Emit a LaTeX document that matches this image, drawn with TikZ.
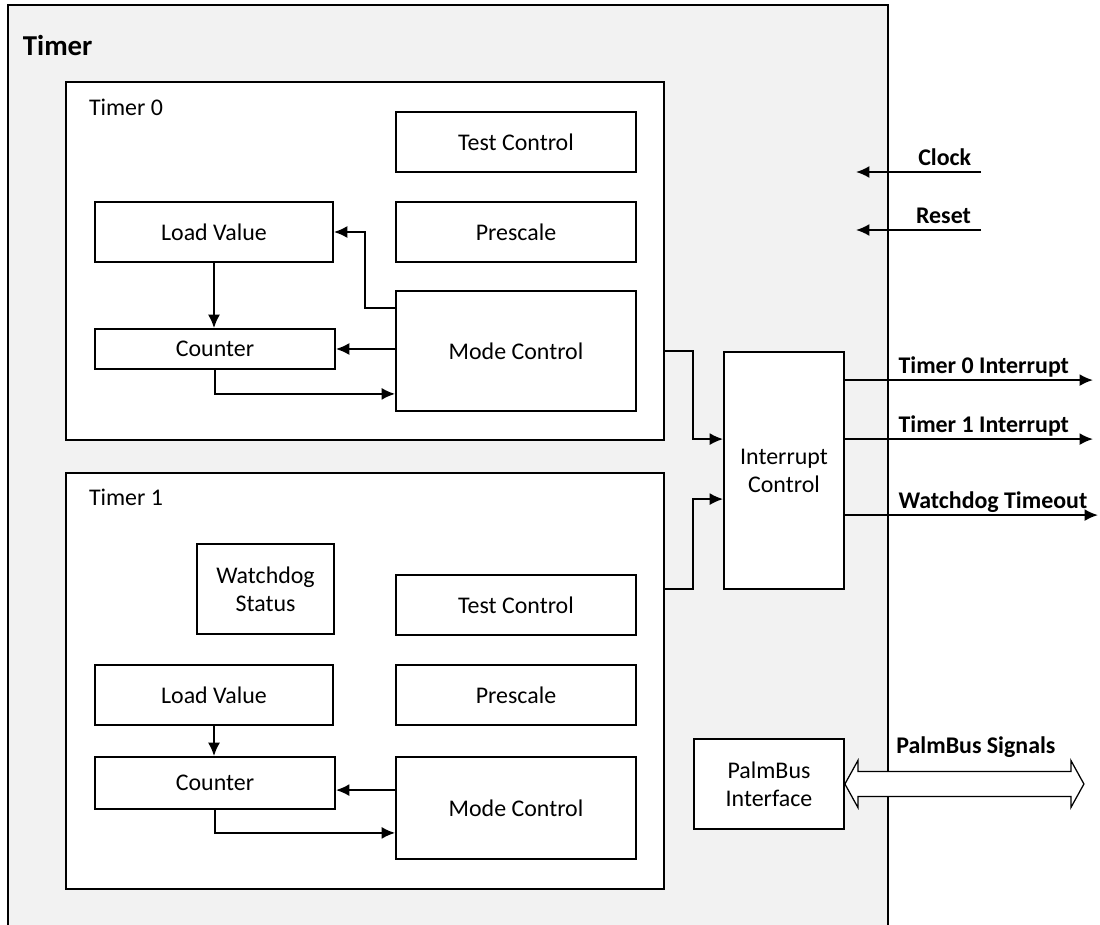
\documentclass[tikz,border=0pt]{standalone}
\usepackage{fontspec}
\setmainfont{Carlito}
\usetikzlibrary{positioning,calc,arrows.meta}

\begin{document}
\begin{tikzpicture}[x=0.025cm,y=-0.025cm,line width=1.3pt,
    every node/.style={font=\fontsize{17}{20}\selectfont},
    blk/.style={draw,fill=white,inner sep=2pt,align=center},
    sz/.style 2 args={minimum width=#1*0.025cm,minimum height=#2*0.025cm},
    arr/.style={-{Latex[length=9.5pt,width=8.5pt]}},
    sig/.style={font=\fontsize{17}{20}\selectfont\bfseries,inner sep=1.5pt,text depth=0.25em}]

  \useasboundingbox (0,0) rectangle (1100,925);

  % Outer block
  \fill[gray!10] (8,5) rectangle (888,925);
  \draw (8,925) |- (888,5) -- (888,925);
  \node[anchor=west,inner sep=0,font=\fontsize{20.5}{24}\selectfont\bfseries] (title) at (22,45) {Timer};

  % Timer 0
  \node[blk,sz={598}{358}] (t0) at (365,261) {};
  \node[anchor=west,inner sep=0] (t0lbl) at ($(t0.north west)+(23,26)$) {Timer 0};
  \node[blk,sz={240}{60}] (test0) at (516,142) {Test Control};
  \node[blk,sz={240}{60}] (pre0) at (516,232) {Prescale};
  \node[blk,sz={238}{60}] (load0) at (214,232) {Load Value};
  \node[blk,sz={240}{40}] (cnt0) at (215,349) {Counter};
  \node[blk,sz={240}{120}] (mode0) at (516,351) {Mode Control};

  \draw[arr] ($(mode0.north west)+(0,18)$) -- ++(-30,0) |- (load0.east);
  \draw[arr] (mode0.west |- cnt0.east) -- (cnt0.east);
  \draw[arr] (load0.south) -- (load0.south |- cnt0.north);
  \draw[arr] (cnt0.south) |- ($(mode0.south west)+(0,-18)$);

  % Timer 1
  \node[blk,sz={598}{416}] (t1) at (365,681) {};
  \node[anchor=west,inner sep=0] (t1lbl) at ($(t1.north west)+(23,25)$) {Timer 1};
  \node[blk,sz={137}{90}] (wd1) at (265.5,589) {Watchdog\\Status};
  \node[blk,sz={240}{60}] (test1) at (516,605) {Test Control};
  \node[blk,sz={238}{60}] (load1) at (214,695) {Load Value};
  \node[blk,sz={240}{60}] (pre1) at (516,695) {Prescale};
  \node[blk,sz={240}{52}] (cnt1) at (215,783) {Counter};
  \node[blk,sz={240}{102}] (mode1) at (516,808) {Mode Control};

  \draw[arr] ($(mode1.north west)+(0,34)$) coordinate (m1a) -- (cnt1.east |- m1a);
  \draw[arr] (load1.south) -- (load1.south |- cnt1.north);
  \draw[arr] (cnt1.south) |- ($(mode1.south west)+(0,-27)$);

  % Interrupt control
  \node[blk,sz={120}{237}] (intc) at (784,470.5) {Interrupt\\Control};
  \draw[arr] (t0.east |- mode0.east) -- ++(28,0) |- ($(intc.north west)+(0,88)$);
  \draw[arr] ($(t1.north east)+(0,117)$) -- ++(28,0) |- ($(intc.north west)+(0,148)$);

  \draw[arr] ($(intc.north east)+(0,29)$) -- ++(248,0) node[sig,above,pos=0.56] {Timer 0 Interrupt};
  \draw[arr] ($(intc.north east)+(0,88)$) -- ++(248,0) node[sig,above,pos=0.56] {Timer 1 Interrupt};
  \draw[arr] ($(intc.north east)+(0,164)$) -- ++(253,0) node[sig,above,pos=0.585] {Watchdog Timeout};

  % Clock and reset
  \coordinate (clk) at (981,172);
  \coordinate (rst) at (981,230);
  \draw[arr] (clk) -- ++(-125,0) node[sig,above,pos=0.29] {Clock};
  \draw[arr] (rst) -- ++(-125,0) node[sig,above,pos=0.3] {Reset};

  % PalmBus
  \node[blk,sz={150}{90}] (palm) at (769,784) {PalmBus\\Interface};
  \draw[fill=white,line width=0.9pt] (palm.east) -- ++(13,-23.5) -- ++(0,11) -- ++(213,0) -- ++(0,-11)
    -- ++(13,23.5) -- ++(-13,23.5) -- ++(0,-11) -- ++(-213,0) -- ++(0,11) -- cycle;
  \node[sig,above] (bussig) at ($(palm.east)+(131,-23.5)$) {PalmBus Signals};

\end{tikzpicture}
\end{document}
